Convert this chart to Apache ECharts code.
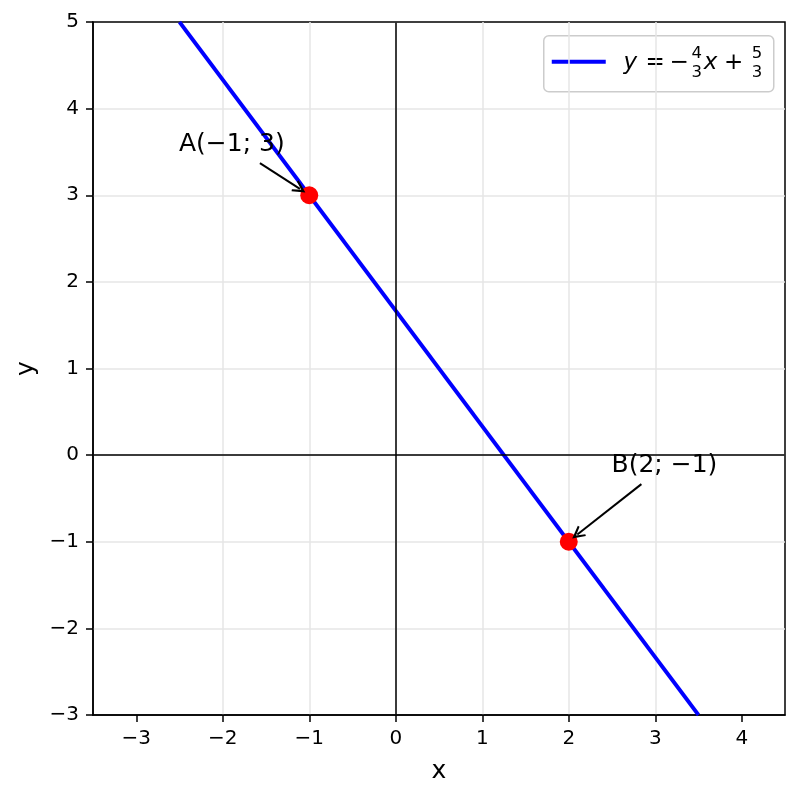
<!DOCTYPE html>
<html><head><meta charset="utf-8">
<script src="https://cdn.jsdelivr.net/npm/echarts@6/dist/echarts.min.js"></script>
<style>html,body{margin:0;padding:0;background:#fff}#c{width:800px;height:797px}</style>
</head><body><div id="c"></div><script>
const xRange = [-3.5, 4.5];
const yRange = [-3, 5];
const xTicks = [-3, -2, -1, 0, 1, 2, 3, 4];
const yTicks = [-3, -2, -1, 0, 1, 2, 3, 4, 5];
const lineX = [-2.5, 3.5];
const lineY = [5, -3];
const pointLabels = ['A(−1; 3)', 'B(2; −1)'];
const pointX = [-1, 2];
const pointY = [3, -1];
const textX = [-2.5, 2.5];
const textY = [3.5, -0.2];
const arrowStartX = [-1.57, 2.84];
const arrowStartY = [3.37, -0.335];
const arrowEndX = [-1.108, 2.099];
const arrowEndY = [3.073, -0.916];

const FONT = 'DejaVu Sans';
const fmt = v => (v < 0 ? '−' + Math.abs(v) : String(v));
const chevron = 'path://M0,0 L5,10 L3.6,10.6 L0,4 L-3.6,10.6 L-5,10 Z';

const chart = echarts.init(document.getElementById('c'), null, {renderer: 'canvas'});

function axisCommon(name, gap, ticks) {
  return {
    type: 'value',
    name: name, nameLocation: 'middle', nameGap: gap,
    nameTextStyle: {fontSize: 25, color: '#000', fontFamily: FONT},
    axisLine: {show: true, onZero: false, lineStyle: {color: '#000', width: 1.5}},
    axisTick: {show: true, length: 7, inside: false, customValues: ticks, lineStyle: {color: '#000', width: 1.5}},
    axisLabel: {customValues: ticks, margin: 14, fontSize: 20, color: '#000', fontFamily: FONT, formatter: fmt},
    splitLine: {show: true, showMinLine: false, showMaxLine: false, lineStyle: {color: '#e6e6e6', width: 1.5}}
  };
}

const xAxis = Object.assign(axisCommon('x', 44, xTicks), {min: xRange[0], max: xRange[1]});
const yAxis = Object.assign(axisCommon('y', 50, yTicks), {min: yRange[0], max: yRange[1], interval: 1});

const lg = {x: 543, y: 35, w: 230, h: 56};
function glyph(t, cx, cy, size, italic) {
  return {type: 'text', x: cx, y: cy, style: {
    text: t, align: 'center', verticalAlign: 'middle',
    fontSize: size, fontFamily: FONT, fontStyle: italic ? 'italic' : 'normal', fill: '#000'
  }};
}

chart.setOption({
  animation: false,
  backgroundColor: '#fff',
  textStyle: {fontFamily: FONT},
  grid: {left: 93, right: 15, top: 22, bottom: 82, show: true, borderColor: '#000', borderWidth: 1.5, backgroundColor: 'transparent'},
  xAxis: xAxis,
  yAxis: yAxis,
  series: [
    {
      type: 'line', name: 'zero', data: [], z: 1, silent: true,
      markLine: {
        silent: true, symbol: ['none', 'none'], animation: false,
        label: {show: false},
        lineStyle: {color: '#000', width: 1.5, type: 'solid'},
        emphasis: {disabled: true},
        data: [{xAxis: 0}, {yAxis: 0}]
      }
    },
    {
      type: 'line', name: 'line', z: 3, showSymbol: false, silent: true,
      data: lineX.map((x, i) => [x, lineY[i]]),
      lineStyle: {color: '#0000ff', width: 3.8},
      itemStyle: {color: '#0000ff'}
    },
    {
      type: 'scatter', name: 'points', z: 4, silent: true,
      data: pointX.map((x, i) => [x, pointY[i]]),
      symbol: 'circle', symbolSize: 18,
      itemStyle: {color: '#ff0000', opacity: 1}
    },
    {
      type: 'scatter', name: 'annot', z: 5, silent: true,
      data: textX.map((x, i) => [x, textY[i]]),
      symbol: 'circle', symbolSize: 1,
      itemStyle: {color: 'rgba(0,0,0,0)'},
      label: {
        show: true, position: [0, 0], align: 'left', verticalAlign: 'bottom', offset: [0, 6],
        fontSize: 25, color: '#000', opacity: 1, textBorderWidth: 0, fontFamily: FONT,
        formatter: p => pointLabels[p.dataIndex]
      },
      markLine: {
        silent: true, animation: false,
        symbol: ['none', chevron], symbolSize: 13,
        label: {show: false},
        lineStyle: {color: '#000', width: 2, type: 'solid'},
        emphasis: {disabled: true},
        data: arrowStartX.map((x, i) => [{coord: [x, arrowStartY[i]]}, {coord: [arrowEndX[i], arrowEndY[i]]}])
      }
    }
  ],
  graphic: [
    {
      type: 'group', left: lg.x, top: lg.y, z: 100,
      children: [
        {type: 'rect', shape: {x: 0, y: 0, width: lg.w, height: lg.h, r: 5}, style: {fill: 'rgba(255,255,255,0.8)', stroke: '#cccccc', lineWidth: 1.5}},
        {type: 'line', shape: {x1: 8, y1: 26, x2: 62, y2: 26}, style: {stroke: '#0000ff', lineWidth: 4}},
        glyph('y', 86.5, 27.7, 23, true),
        glyph('=', 111.5, 27.7, 23, false),
        glyph('−', 135.5, 27.7, 23, false),
        glyph('4', 153, 17.5, 16.5, false),
        glyph('3', 153, 36.7, 16.5, false),
        glyph('x', 166.7, 27.7, 23, true),
        glyph('+', 190, 27.7, 23, false),
        glyph('5', 213.3, 17.5, 16.5, false),
        glyph('3', 213.3, 36.7, 16.5, false)
      ]
    }
  ]
});
</script></body></html>
